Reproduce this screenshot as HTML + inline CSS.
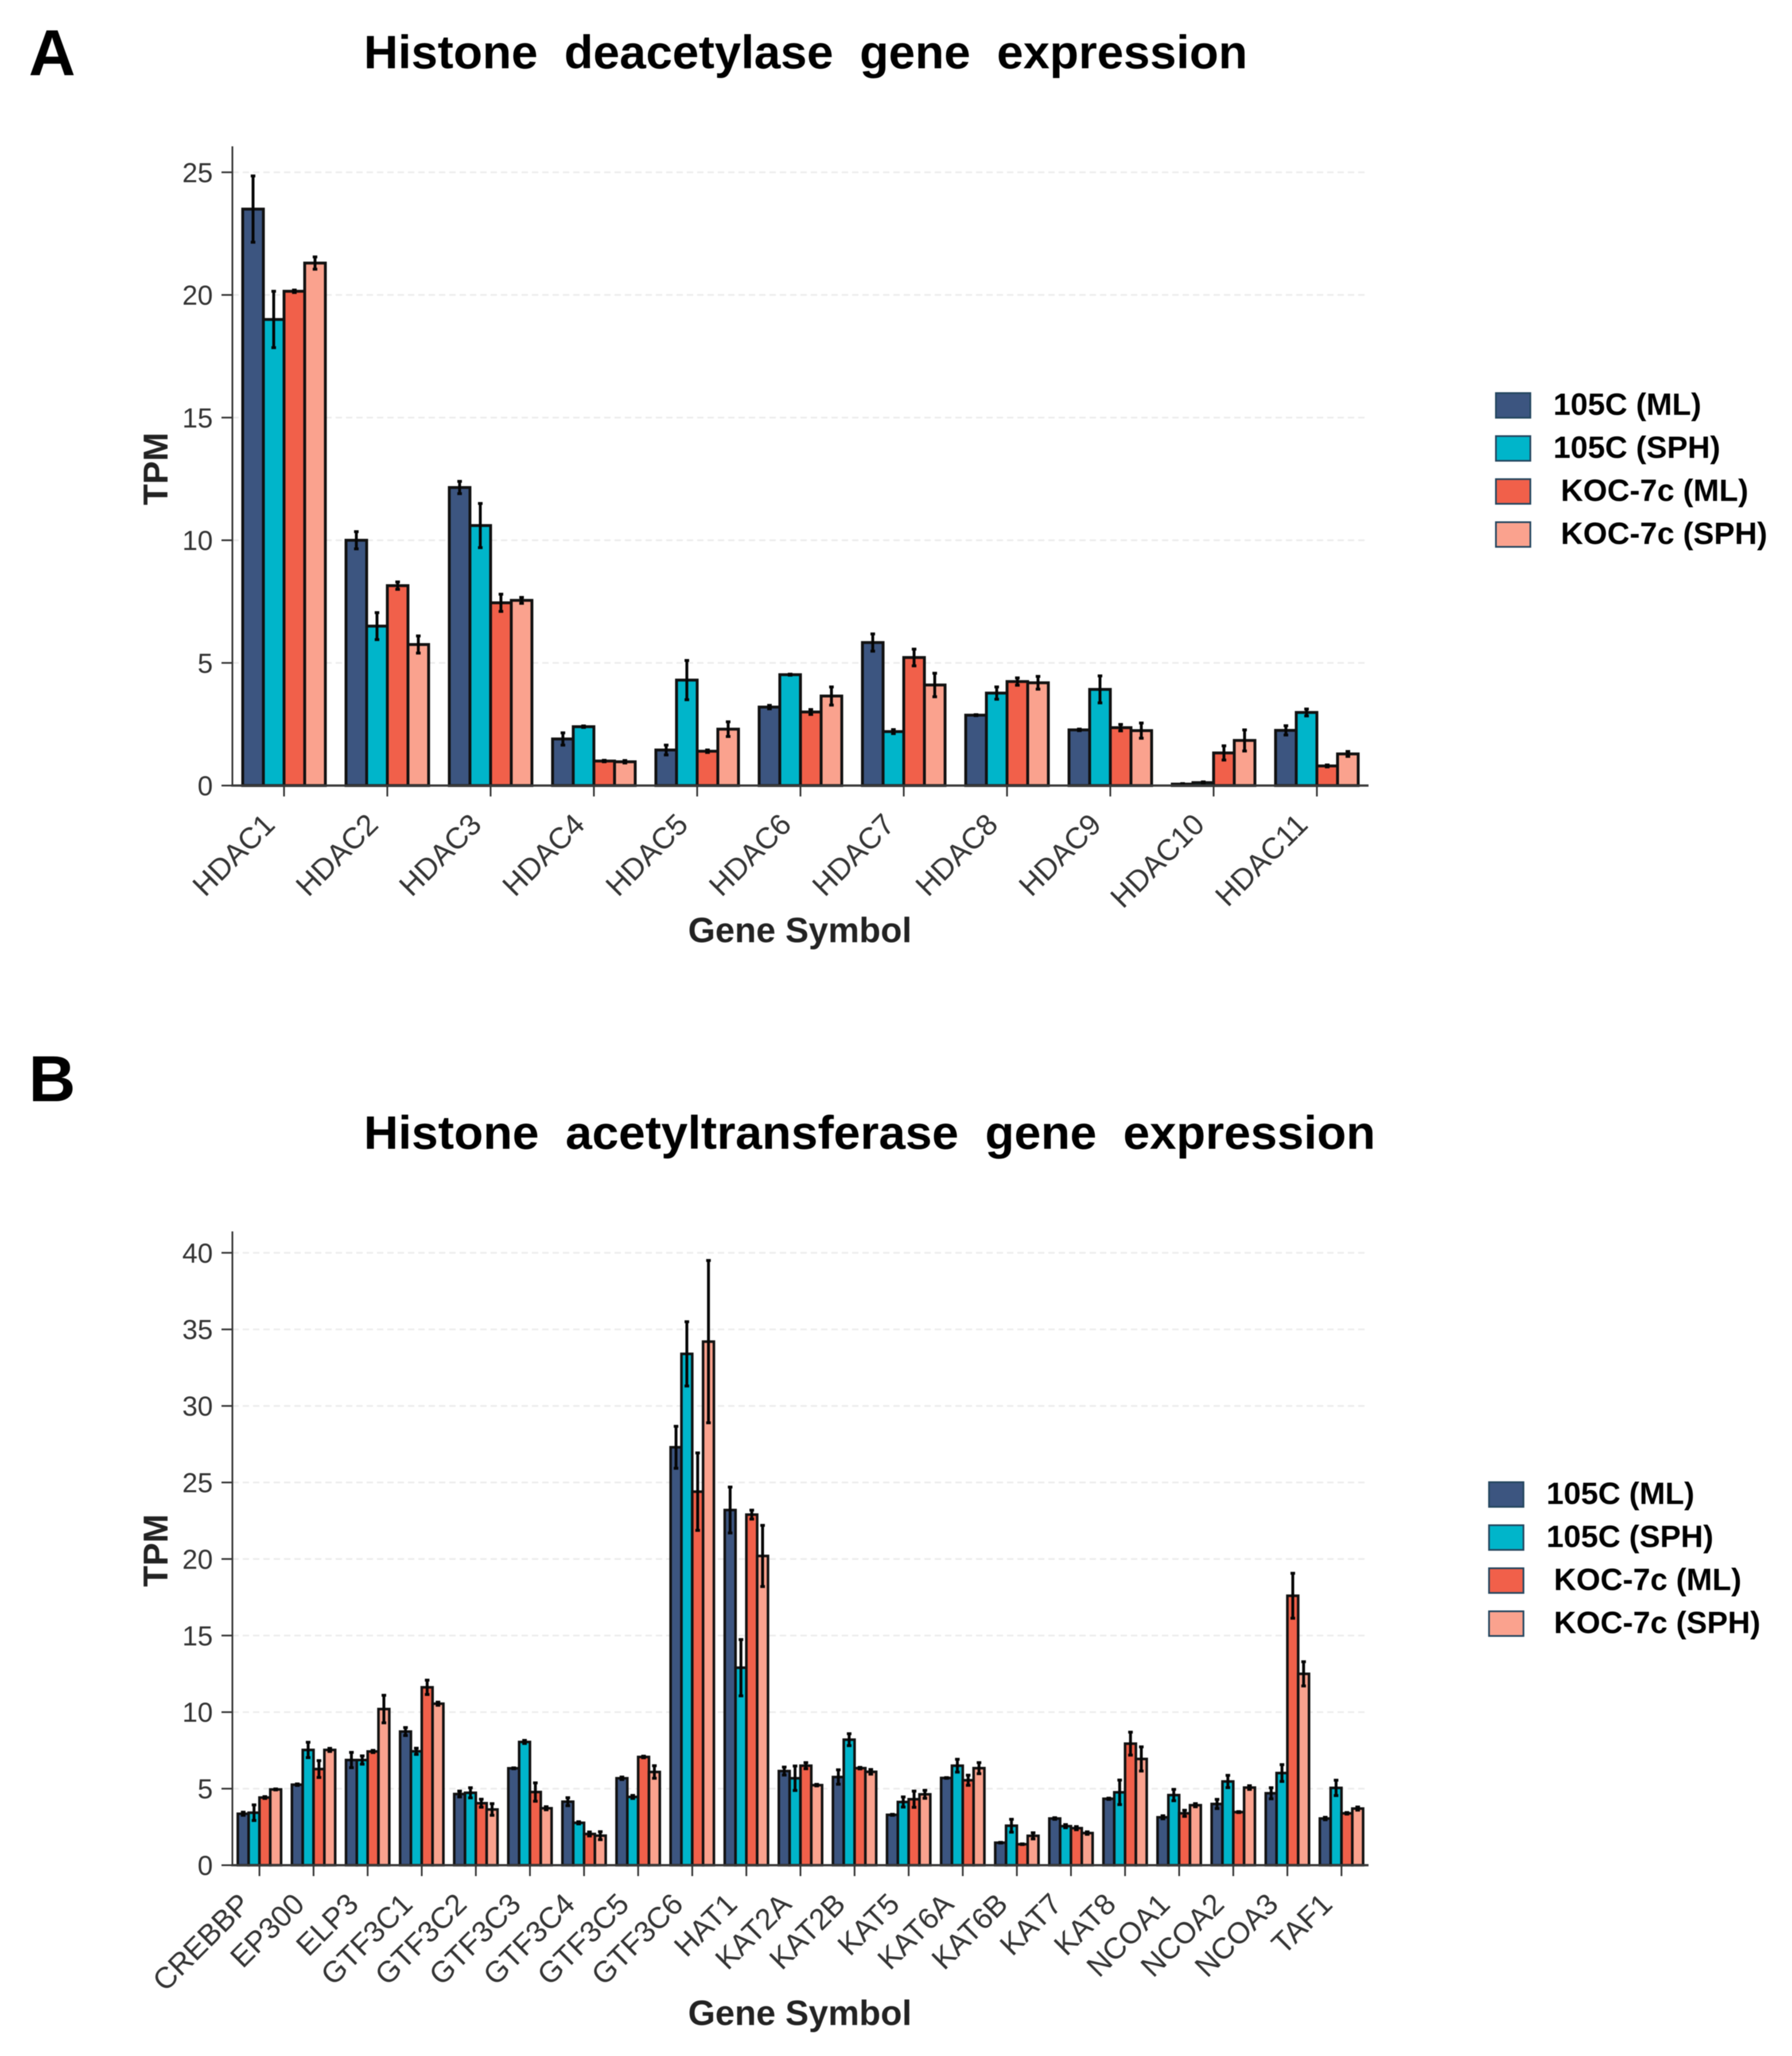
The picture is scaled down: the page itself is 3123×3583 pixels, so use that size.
<!DOCTYPE html>
<html>
<head>
<meta charset="utf-8">
<title>Histone gene expression</title>
<style>
html,body{margin:0;padding:0;background:#fff;}
svg{display:block;font-family:"Liberation Sans",sans-serif;filter:blur(0.7px);}
</style>
</head>
<body>
<svg id="figure" xmlns="http://www.w3.org/2000/svg" width="3123" height="3583" viewBox="0 0 3123 3583">
  <rect x="0" y="0" width="3123" height="3583" fill="#ffffff"/>
  <text x="50" y="131" font-size="113" font-weight="700" fill="#000">A</text>
  <text x="50" y="1919" font-size="113" font-weight="700" fill="#000">B</text>
  <text x="634" y="119" font-size="82" font-weight="700" fill="#000" xml:space="preserve" textLength="1540" lengthAdjust="spacingAndGlyphs">Histone  deacetylase  gene  expression</text>
  <text x="634" y="2002" font-size="82" font-weight="700" fill="#000" xml:space="preserve" textLength="1763" lengthAdjust="spacingAndGlyphs">Histone  acetyltransferase  gene  expression</text>
  <g id="chart-a"></g>
  <g id="chart-b"></g>
</svg>
<script>
// Shared legend / colours
const seriesLabels = ['105C (ML)', '105C (SPH)', 'KOC-7c (ML)', 'KOC-7c (SPH)'];
const seriesColors = ['#3C5580', '#00B5CA', '#F1604A', '#FAA28E'];

// Chart A: histone deacetylases
const hdacGenes = ['HDAC1','HDAC2','HDAC3','HDAC4','HDAC5','HDAC6','HDAC7','HDAC8','HDAC9','HDAC10','HDAC11'];
const hdacTicks = [0, 5, 10, 15, 20, 25];
const hdac105cMl   = [23.5, 10.0, 12.15, 1.9, 1.45, 3.2, 5.83, 2.87, 2.27, 0.06, 2.25];
const hdac105cSph  = [19.0, 6.5, 10.6, 2.4, 4.3, 4.52, 2.2, 3.77, 3.92, 0.12, 2.98];
const hdacKocMl    = [20.15, 8.15, 7.45, 1.0, 1.4, 3.0, 5.22, 4.24, 2.36, 1.33, 0.8];
const hdacKocSph   = [21.3, 5.75, 7.55, 0.97, 2.3, 3.65, 4.1, 4.19, 2.24, 1.84, 1.29];
const hdac105cMlErr  = [1.35, 0.35, 0.25, 0.25, 0.2, 0.07, 0.35, 0.02, 0.03, 0.02, 0.19];
const hdac105cSphErr = [1.15, 0.55, 0.9, 0.03, 0.8, 0.02, 0.08, 0.25, 0.55, 0.03, 0.14];
const hdacKocMlErr   = [0.05, 0.15, 0.35, 0.03, 0.05, 0.1, 0.34, 0.15, 0.13, 0.29, 0.04];
const hdacKocSphErr  = [0.25, 0.35, 0.12, 0.05, 0.3, 0.37, 0.48, 0.26, 0.31, 0.43, 0.1];

// Chart B: histone acetyltransferases
const hatGenes = ['CREBBP','EP300','ELP3','GTF3C1','GTF3C2','GTF3C3','GTF3C4','GTF3C5','GTF3C6','HAT1','KAT2A','KAT2B','KAT5','KAT6A','KAT6B','KAT7','KAT8','NCOA1','NCOA2','NCOA3','TAF1'];
const hatTicks = [0, 5, 10, 15, 20, 25, 30, 35, 40];
const hat105cMl   = [3.36, 5.26, 6.87, 8.73, 4.65, 6.33, 4.15, 5.68, 27.3, 23.2, 6.15, 5.76, 3.29, 5.7, 1.47, 3.05, 4.34, 3.13, 4.0, 4.7, 3.05];
const hat105cSph  = [3.43, 7.53, 6.87, 7.44, 4.73, 8.05, 2.77, 4.46, 33.4, 12.9, 5.68, 8.2, 4.13, 6.5, 2.58, 2.55, 4.76, 4.58, 5.47, 6.02, 5.05];
const hatKocMl    = [4.42, 6.28, 7.43, 11.62, 4.05, 4.78, 2.04, 7.07, 24.4, 22.9, 6.5, 6.34, 4.31, 5.55, 1.37, 2.42, 7.94, 3.39, 3.47, 17.6, 3.39];
const hatKocSph   = [4.95, 7.53, 10.2, 10.55, 3.64, 3.72, 1.93, 6.09, 34.2, 20.2, 5.23, 6.1, 4.63, 6.34, 1.92, 2.1, 6.94, 3.92, 5.07, 12.5, 3.7];
const hat105cMlErr  = [0.1, 0.05, 0.5, 0.26, 0.19, 0.03, 0.26, 0.08, 1.37, 1.5, 0.26, 0.47, 0.03, 0.02, 0.02, 0.05, 0.04, 0.1, 0.3, 0.36, 0.08];
const hat105cSphErr = [0.51, 0.5, 0.27, 0.2, 0.33, 0.1, 0.07, 0.1, 2.1, 1.84, 0.8, 0.39, 0.33, 0.42, 0.42, 0.1, 0.8, 0.37, 0.4, 0.55, 0.5];
const hatKocMlErr   = [0.06, 0.55, 0.07, 0.47, 0.26, 0.6, 0.13, 0.05, 2.53, 0.29, 0.2, 0.05, 0.53, 0.33, 0.02, 0.1, 0.75, 0.2, 0.03, 1.47, 0.05];
const hatKocSphErr  = [0.03, 0.1, 0.9, 0.1, 0.38, 0.1, 0.26, 0.41, 5.3, 2.0, 0.05, 0.15, 0.26, 0.36, 0.2, 0.08, 0.79, 0.1, 0.12, 0.79, 0.1];

const NS = 'http://www.w3.org/2000/svg';
function make(parent, tag, attrs, content) {
  const node = document.createElementNS(NS, tag);
  for (const k in attrs) node.setAttribute(k, attrs[k]);
  if (content !== undefined) node.textContent = content;
  parent.appendChild(node);
  return node;
}

function drawChart(cfg) {
  const root = document.getElementById(cfg.id);
  const n = cfg.genes.length;
  const band = (cfg.right - cfg.left) / n;
  const barW = band * 0.8 / 4;
  const xScale = i => cfg.left + band * (i + 0.5);
  const yScale = v => cfg.base - v * cfg.unit;

  // Grid and y ticks
  cfg.ticks.forEach(t => {
    const y = yScale(t);
    if (t > 0) {
      const grid = make(root, 'line', {x1: cfg.left, x2: cfg.right, y1: y, y2: y, stroke: '#ececec', 'stroke-width': 3, 'stroke-dasharray': '11 7'});
      
      
    }
    const tick = make(root, 'line', {x1: cfg.left - 19, x2: cfg.left, y1: y, y2: y, stroke: '#333', 'stroke-width': 3});
    
    
    const label = make(root, 'text', {x: cfg.left - 34, y: y + 17, 'font-size': 48, fill: '#333', 'text-anchor': 'end'}, String(t));
    
    
  });

  // Bars
  cfg.series.forEach((vals, s) => {
    vals.forEach((v, i) => {
      const x = xScale(i) - 2 * barW + s * barW;
      const bar = make(root, 'rect', {x: x, y: yScale(v), width: barW, height: cfg.base - yScale(v), fill: seriesColors[s], stroke: '#111', 'stroke-width': cfg.barStroke});
      
      
    });
  });

  // Error bars
  cfg.series.forEach((vals, s) => {
    vals.forEach((v, i) => {
      const cx = xScale(i) - 2 * barW + (s + 0.5) * barW;
      const e = cfg.errors[s][i];
      const err = make(root, 'path', {
        d: 'M' + cx + ' ' + yScale(v + e) + 'V' + yScale(v - e) +
           'M' + (cx - 4) + ' ' + yScale(v + e) + 'H' + (cx + 4) +
           'M' + (cx - 4) + ' ' + yScale(v - e) + 'H' + (cx + 4),
        stroke: '#050505', 'stroke-width': 5, fill: 'none'
      });
      
      
    });
  });

  // Axes
  const yAxis = make(root, 'line', {x1: cfg.left, x2: cfg.left, y1: cfg.top, y2: cfg.base + 2, stroke: '#333', 'stroke-width': 3});
  
  
  const xAxis = make(root, 'line', {x1: cfg.left - 2, x2: cfg.right, y1: cfg.base, y2: cfg.base, stroke: '#3a3a3a', 'stroke-width': 4});
  
  

  // X ticks and rotated labels
  cfg.genes.forEach((g, i) => {
    const x = xScale(i);
    const tick = make(root, 'line', {x1: x, x2: x, y1: cfg.base, y2: cfg.base + 19, stroke: '#333', 'stroke-width': 3});
    
    
    const lx = x - 13;
    const ly = cfg.base + 71;
    const label = make(root, 'text', {x: lx, y: ly, 'font-size': 52, fill: '#333', 'text-anchor': 'end', transform: 'rotate(-45 ' + lx + ' ' + ly + ')'}, g);
    
    
  });

  // Axis titles
  const yt = cfg.yTitleY;
  const yTitle = make(root, 'text', {x: 292, y: yt, 'font-size': 60, 'font-weight': 700, fill: '#222', 'text-anchor': 'middle', transform: 'rotate(-90 292 ' + yt + ')'}, 'TPM');
  
  
  const xTitle = make(root, 'text', {x: 1394, y: cfg.xTitleBase, 'font-size': 61, 'font-weight': 700, fill: '#222', 'text-anchor': 'middle'}, 'Gene Symbol');
  
  

  // Legend
  seriesLabels.forEach((lab, s) => {
    const entry = make(root, 'g', {});
    
    
    const rowTop = cfg.legendTop + s * 75;
    const swatch = make(entry, 'rect', {x: cfg.legendX, y: rowTop, width: 60, height: 43, fill: seriesColors[s], stroke: '#24465f', 'stroke-width': 3});
    
    
    const textX = cfg.legendX + (s < 2 ? 100 : 113);
    const text = make(entry, 'text', {x: textX, y: rowTop + 38, 'font-size': 54, 'font-weight': 700, fill: '#000'}, lab);
    
    
  });
}

drawChart({
  id: 'chart-a', genes: hdacGenes, ticks: hdacTicks,
  series: [hdac105cMl, hdac105cSph, hdacKocMl, hdacKocSph],
  errors: [hdac105cMlErr, hdac105cSphErr, hdacKocMlErr, hdacKocSphErr],
  left: 405, right: 2385, top: 255, base: 1369, unit: 42.75, barStroke: 5,
  yTitleY: 817, xTitleBase: 1642, legendX: 2607, legendTop: 685
});
drawChart({
  id: 'chart-b', genes: hatGenes, ticks: hatTicks,
  series: [hat105cMl, hat105cSph, hatKocMl, hatKocSph],
  errors: [hat105cMlErr, hat105cSphErr, hatKocMlErr, hatKocSphErr],
  left: 405, right: 2385, top: 2146, base: 3250.5, unit: 26.68, barStroke: 4.5,
  yTitleY: 2702, xTitleBase: 3529, legendX: 2595, legendTop: 2583
});
</script>
</body>
</html>
